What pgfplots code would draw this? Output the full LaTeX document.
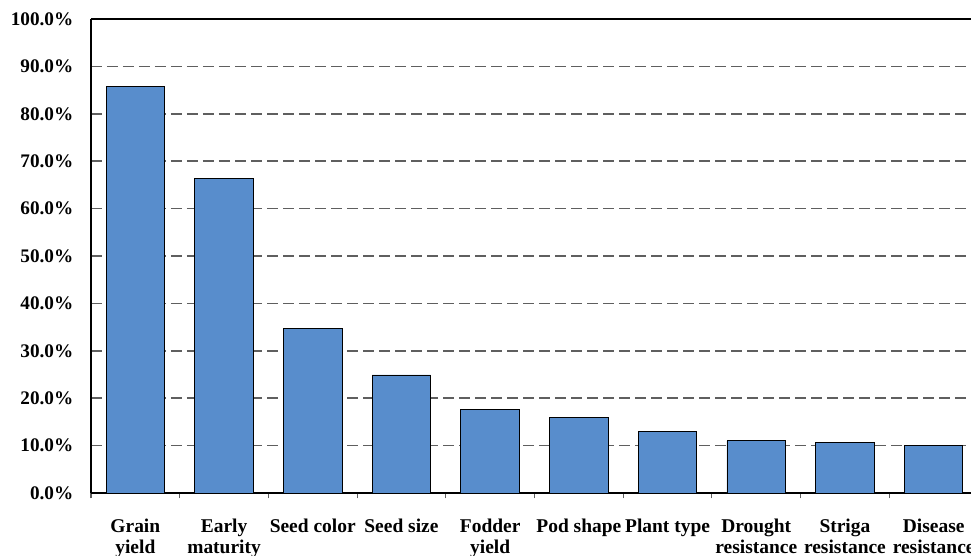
\documentclass[border=0pt]{standalone}
\usepackage{pgfplots}
\pgfplotsset{compat=1.18}
\usepackage{fontspec}
\setmainfont{Liberation Serif}
\definecolor{barblue}{RGB}{88,141,204}
\definecolor{gridgray}{RGB}{95,95,95}

\begin{document}
\begin{tikzpicture}
% the reference is cut off at its right edge
\path[use as bounding box, clip] (-68.25pt,-47.25pt) rectangle (660pt,369.75pt);
\begin{axis}[
    scale only axis,
    width=665.25pt, height=355.5pt,
    xmin=-0.5, xmax=9.5,
    ymin=0, ymax=100,
    axis x line*=box, axis y line*=left,
    axis line style={line width=1.4pt, black},
    ybar=0, bar width=0.66,
    xtick={0,...,9},
    xticklabels={{Grain\\yield},{Early\\maturity},{Seed color},{Seed size},{Fodder\\yield},{Pod shape},{Plant type},{Drought\\resistance},{Striga\\resistance},{Disease\\resistance}},
    major x tick style={draw=none},
    minor xtick={-0.5,0.5,...,8.5},
    minor tick length=4pt,
    minor x tick style={gridgray, line width=0.8pt},
    tick align=outside,
    xtick pos=bottom,
    xticklabel style={font=\bfseries\fontsize{14.6}{15.5}\selectfont, align=center, anchor=north, yshift=-12pt},
    ytick={0,10,...,100},
    yticklabels={0.0\%,10.0\%,20.0\%,30.0\%,40.0\%,50.0\%,60.0\%,70.0\%,80.0\%,90.0\%,100.0\%},
    ytick style={draw=none},
    yticklabel style={font=\bfseries\fontsize{14.4}{15}\selectfont, xshift=-5.5pt},
    ymajorgrids,
    grid style={gridgray, line width=1.1pt, dash pattern=on 8pt off 4pt},
]
\addplot[fill=barblue, draw=black, line width=0.7pt]
coordinates {(0,85.8) (1,66.4) (2,34.7) (3,24.9) (4,17.6) (5,15.9) (6,12.9) (7,11.0) (8,10.7) (9,10.1)};
\end{axis}
\end{tikzpicture}
\end{document}
